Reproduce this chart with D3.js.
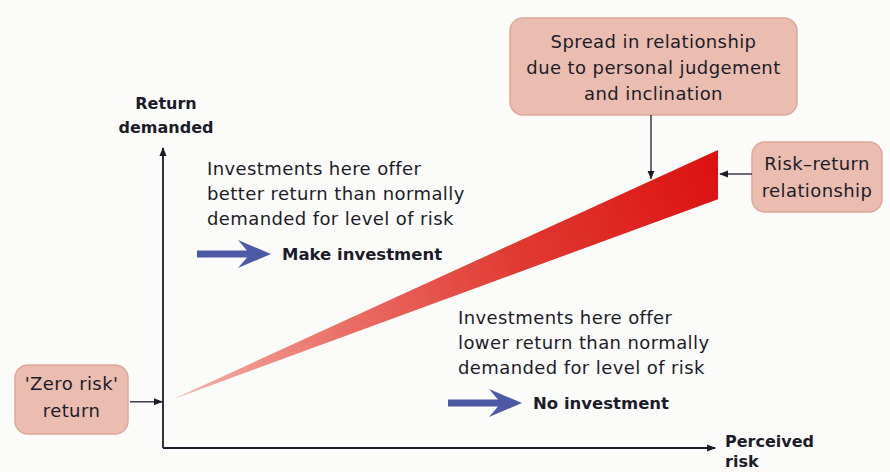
<!DOCTYPE html>
<html>
<head>
<meta charset="utf-8">
<script src="https://cdn.jsdelivr.net/npm/d3@7"></script>
<style>
  body { margin: 0; background: #fbfbfa; }
  svg { display: block; font-family: "DejaVu Sans", "Open Sans", sans-serif; }
</style>
</head>
<body>
<div class="chart"></div>
<script>
// risk / return on a 0-10 scale
var riskDomain = [0, 10]
var returnDomain = [0, 10]

// risk-return band: [risk, lower return, upper return]
var bandRisk = [0.18, 10]
var bandLower = [1.64, 8.35]
var bandUpper = [1.64, 10]

var zeroRiskReturn = 1.55

var axisLabels = { y: ['Return', 'demanded'], x: ['Perceived', 'risk'] }
var betterText = ['Investments here offer', 'better return than normally', 'demanded for level of risk']
var lowerText = ['Investments here offer', 'lower return than normally', 'demanded for level of risk']
var actions = ['Make investment', 'No investment']
var boxes = [
  { id: 'spread', lines: ['Spread in relationship', 'due to personal judgement', 'and inclination'] },
  { id: 'rr', lines: ['Risk\u2013return', 'relationship'] },
  { id: 'zero', lines: ["'Zero risk'", 'return'] }
]

var width = 890, height = 472
var ink = '#1c1c28'
var fs = 18

var x = d3.scaleLinear().domain(riskDomain).range([163, 718])
var y = d3.scaleLinear().domain(returnDomain).range([448, 150])

var svg = d3.select('.chart').append('svg')
  .attr('width', width)
  .attr('height', height)

var defs = svg.append('defs')

defs.append('marker')
  .attr('id', 'tip')
  .attr('viewBox', '0 0 10 10')
  .attr('refX', 9).attr('refY', 5)
  .attr('markerWidth', 9).attr('markerHeight', 9)
  .attr('markerUnits', 'userSpaceOnUse')
  .attr('orient', 'auto')
  .append('path')
  .attr('d', 'M0,1 L10,5 L0,9 Z')
  .attr('fill', ink)

var grad = defs.append('linearGradient')
  .attr('id', 'band')
  .attr('gradientUnits', 'userSpaceOnUse')
  .attr('x1', x(bandRisk[0])).attr('y1', y(bandLower[0]))
  .attr('x2', x(bandRisk[1])).attr('y2', y(bandUpper[1]))
grad.append('stop').attr('offset', 0).attr('stop-color', '#f4b4ac')
grad.append('stop').attr('offset', 0.3).attr('stop-color', '#ea7068')
grad.append('stop').attr('offset', 0.62).attr('stop-color', '#e03a32')
grad.append('stop').attr('offset', 1).attr('stop-color', '#dc1010')

// axes
svg.append('line')
  .attr('x1', x(0)).attr('y1', y(0))
  .attr('x2', x(0)).attr('y2', y(10) - 2)
  .attr('stroke', ink).attr('stroke-width', 1.8)
  .attr('marker-end', 'url(#tip)')
svg.append('line')
  .attr('x1', x(0)).attr('y1', y(0))
  .attr('x2', x(9.95)).attr('y2', y(0))
  .attr('stroke', ink).attr('stroke-width', 1.8)
  .attr('marker-end', 'url(#tip)')

// risk-return band
var bandPts = [
  [bandRisk[0], bandLower[0]],
  [bandRisk[1], bandLower[1]],
  [bandRisk[1], bandUpper[1]],
  [bandRisk[0], bandUpper[0]]
]
svg.append('path')
  .attr('d', d3.line().x(d => x(d[0])).y(d => y(d[1]))(bandPts) + 'Z')
  .attr('fill', 'url(#band)')

// axis labels
svg.append('text')
  .attr('text-anchor', 'middle')
  .attr('font-weight', 'bold').attr('font-size', 16).attr('fill', ink)
  .selectAll('tspan').data(axisLabels.y).join('tspan')
  .attr('x', 166).attr('y', (d, i) => 109 + i * 24)
  .text(d => d)
svg.append('text')
  .attr('font-weight', 'bold').attr('font-size', 16).attr('fill', ink)
  .selectAll('tspan').data(axisLabels.x).join('tspan')
  .attr('x', 725).attr('y', (d, i) => 447 + i * 20)
  .text(d => d)

// region notes
function note(lines, x0, y0) {
  svg.append('text')
    .attr('font-size', fs).attr('letter-spacing', 0.4).attr('fill', ink)
    .selectAll('tspan').data(lines).join('tspan')
    .attr('x', x0).attr('y', (d, i) => y0 + i * 25)
    .text(d => d)
}
note(betterText, 207, 175)
note(lowerText, 458, 324)

// action arrows (swept-back head)
function action(label, x0, y0) {
  svg.append('path')
    .attr('d', 'M' + x0 + ',' + (y0 - 3.5) + ' L' + (x0 + 50) + ',' + (y0 - 3.5) +
      ' L' + (x0 + 41) + ',' + (y0 - 14) + ' L' + (x0 + 74) + ',' + y0 +
      ' L' + (x0 + 41) + ',' + (y0 + 14) + ' L' + (x0 + 50) + ',' + (y0 + 3.5) +
      ' L' + x0 + ',' + (y0 + 3.5) + ' Z')
    .attr('fill', '#4d59a4')
  svg.append('text')
    .attr('x', x0 + 85).attr('y', y0 + 6)
    .attr('font-size', 16.5).attr('font-weight', 'bold').attr('fill', ink)
    .text(label)
}
action(actions[0], 197, 254)
action(actions[1], 448, 403)

// callout boxes
var boxPos = {
  spread: { x: 510, y: 18, w: 287, h: 97, ty: 48, lh: 26 },
  rr: { x: 752, y: 142, w: 130, h: 70, ty: 170, lh: 27 },
  zero: { x: 15, y: 365, w: 113, h: 69, ty: 390, lh: 27 }
}
boxes.forEach(b => {
  var p = boxPos[b.id]
  svg.append('rect')
    .attr('x', p.x).attr('y', p.y).attr('width', p.w).attr('height', p.h)
    .attr('rx', 13)
    .attr('fill', '#ebbdb1').attr('stroke', '#dba89b').attr('stroke-width', 1.5)
  svg.append('text')
    .attr('text-anchor', 'middle').attr('font-size', fs).attr('letter-spacing', 0.4).attr('fill', ink)
    .selectAll('tspan').data(b.lines).join('tspan')
    .attr('x', p.x + p.w / 2).attr('y', (d, i) => p.ty + i * p.lh)
    .text(d => d)
})

// pointer arrows
function pointer(x1, y1, x2, y2) {
  svg.append('line')
    .attr('x1', x1).attr('y1', y1).attr('x2', x2).attr('y2', y2)
    .attr('stroke', ink).attr('stroke-width', 1.3)
    .attr('marker-end', 'url(#tip)')
}
var tr = [bandRisk[1], bandUpper[1]]
pointer(651, 115, 651, y(bandLower[0] + (bandUpper[1] - bandLower[0]) * ((651 - x(bandRisk[0])) / (x(tr[0]) - x(bandRisk[0])))) - 2)
pointer(752, 174, x(bandRisk[1]) + 2, 174)
pointer(130, y(zeroRiskReturn), x(0) - 1, y(zeroRiskReturn))
</script>
</body>
</html>
